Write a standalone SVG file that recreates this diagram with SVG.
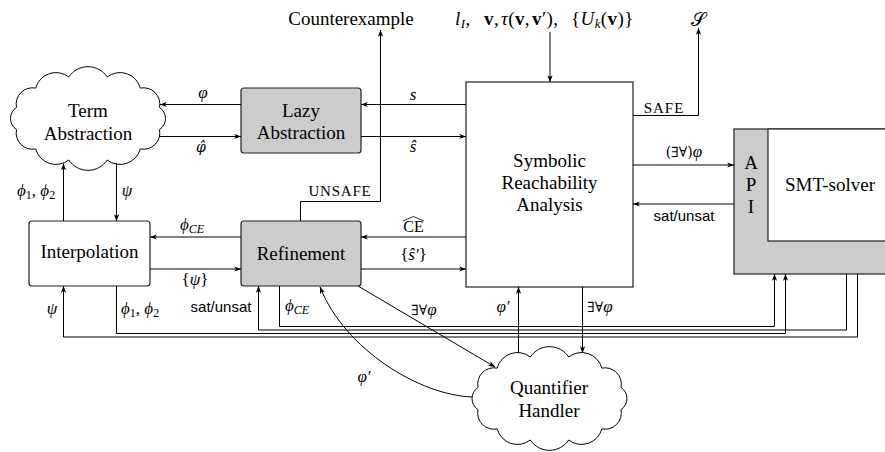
<svg xmlns="http://www.w3.org/2000/svg" width="885" height="452" viewBox="0 0 885 452" font-family="Liberation Serif, serif">
<style>
.nt{fill:#000;text-anchor:middle}
.m{font-style:italic;fill:#000}
.u{fill:#000}
.mid{text-anchor:middle}
.box{stroke:#222;stroke-width:1.2}
.w{fill:#fff}
.g{fill:#ccc}
.c{fill:none;stroke:#000;stroke-width:1}
.ar{marker-end:url(#ah)}
</style>
<defs>
<marker id="ah" viewBox="0 0 7 6" refX="6.8" refY="3" markerWidth="7" markerHeight="6" markerUnits="userSpaceOnUse" orient="auto">
<path d="M0,0.4 L7,3 L0,5.6 L1.8,3 Z" fill="#000"/>
</marker>
<path id="cloud" d="M71.5,11.1 A16.3,16.3 0 0 1 52.3,30.4 A20.9,20.9 0 0 1 19.2,41.5 A23,23 0 0 1 -19.2,41.5 A20.9,20.9 0 0 1 -52.3,30.4 A16.3,16.3 0 0 1 -71.5,11.1 A13.3,13.3 0 0 1 -71.5,-11.1 A16.3,16.3 0 0 1 -52.3,-30.4 A20.9,20.9 0 0 1 -19.2,-41.5 A23,23 0 0 1 19.2,-41.5 A20.9,20.9 0 0 1 52.3,-30.4 A16.3,16.3 0 0 1 71.5,-11.1 A13.3,13.3 0 0 1 71.5,11.1 Z"/>
</defs>
<rect width="885" height="452" fill="#fff"/>

<g id="term-abstraction">
<use href="#cloud" transform="translate(88,118.5)" fill="#fff" stroke="#000" stroke-width="1"/>
<text class="nt" x="88" y="117" font-family="Liberation Serif" font-size="19">Term</text>
<text class="nt" x="88" y="139.5" font-family="Liberation Serif" font-size="19">Abstraction</text>
</g>

<g id="lazy-abstraction">
<rect class="box g" x="241" y="88" width="120" height="65" rx="3"/>
<text class="nt" x="301" y="116.5" font-family="Liberation Serif" font-size="19">Lazy</text>
<text class="nt" x="301" y="139" font-family="Liberation Serif" font-size="19">Abstraction</text>
</g>

<g id="interpolation">
<rect class="box w" x="29" y="221" width="121" height="65" rx="3"/>
<text class="nt" x="89.5" y="257.5" font-family="Liberation Serif" font-size="19">Interpolation</text>
</g>

<g id="refinement">
<rect class="box g" x="241" y="221" width="120" height="65" rx="3"/>
<text class="nt" x="301" y="260" font-family="Liberation Serif" font-size="19">Refinement</text>
</g>

<g id="symbolic-reachability">
<rect class="box w" x="466" y="82" width="167" height="205"/>
<text class="nt" x="549.5" y="166.5" font-family="Liberation Serif" font-size="19">Symbolic</text>
<text class="nt" x="549.5" y="189" font-family="Liberation Serif" font-size="19">Reachability</text>
<text class="nt" x="549.5" y="211" font-family="Liberation Serif" font-size="19">Analysis</text>
</g>

<g id="smt-solver">
<rect class="box g" x="734" y="129" width="160" height="145"/>
<rect class="box w" x="768" y="129" width="130" height="112" stroke-width="1.6"/>
<text class="nt" x="751" y="168.5" font-family="Liberation Serif" font-size="19">A</text>
<text class="nt" x="751" y="190.5" font-family="Liberation Serif" font-size="19">P</text>
<text class="nt" x="751" y="212.5" font-family="Liberation Serif" font-size="19">I</text>
<text class="nt" x="830" y="191" font-family="Liberation Serif" font-size="19">SMT-solver</text>
</g>

<g id="quantifier-handler">
<use href="#cloud" transform="translate(549.5,398.5)" fill="#fff" stroke="#000" stroke-width="1"/>
<text class="nt" x="549" y="394" font-family="Liberation Serif" font-size="19">Quantifier</text>
<text class="nt" x="549" y="416.5" font-family="Liberation Serif" font-size="19">Handler</text>
</g>

<g id="connectors">
<path class="c ar" d="M466,104.5 H361"/>
<path class="c ar" d="M361,136.5 H466"/>
<path class="c ar" d="M241,104.5 H160"/>
<path class="c ar" d="M159,136.5 H241"/>
<path class="c ar" d="M63.5,221 V163.5"/>
<path class="c ar" d="M116.5,163 V221"/>
<path class="c ar" d="M241,237 H150"/>
<path class="c ar" d="M150,269 H241"/>
<path class="c ar" d="M466,237 H361"/>
<path class="c ar" d="M361,269 H466"/>
<path class="c ar" d="M300.5,221 V201.5 H380.5 V30"/>
<path class="c ar" d="M550,32 V82"/>
<path class="c ar" d="M633,115.5 H698.5 V28"/>
<path class="c ar" d="M633,165 H734"/>
<path class="c ar" d="M734,204 H633"/>
<path class="c ar" d="M279.5,286 V326.5 H774.5 V274"/>
<path class="c ar" d="M846.5,274 V330 H258.5 V286"/>
<path class="c ar" d="M116.5,286 V333.5 H785.5 V274"/>
<path class="c ar" d="M857.5,274 V337 H63.5 V286"/>
<path class="c ar" d="M518.5,353 V287"/>
<path class="c ar" d="M582.5,287 V353"/>
<path class="c ar" d="M358,286 L495,367"/>
<path class="c ar" d="M472,397 C420,395 345,350 320,287"/>
</g>

<g id="labels">
<text class="nt" x="351" y="25" font-family="Liberation Serif" font-size="19">Counterexample</text>
<text class="u" x="455" y="24.5" font-family="Liberation Serif" font-size="19" letter-spacing="0.4"><tspan font-style="italic">l</tspan><tspan font-style="italic" font-size="13" dy="3">I</tspan><tspan dy="-3">,</tspan><tspan x="484" font-weight="bold">v</tspan><tspan>,</tspan><tspan x="501" font-style="italic">τ</tspan><tspan>(</tspan><tspan font-weight="bold">v</tspan><tspan>,</tspan><tspan dx="2" font-weight="bold">v</tspan><tspan>′),</tspan><tspan x="571">{</tspan><tspan font-style="italic">U</tspan><tspan font-style="italic" font-size="13" dy="3">k</tspan><tspan dy="-3">(</tspan><tspan font-weight="bold">v</tspan><tspan>)}</tspan></text>
<text class="mid" x="698" y="26" font-family="Liberation Serif, DejaVu Serif, serif" font-size="19">𝒮</text>
<text class="m mid" x="203" y="98" font-family="Liberation Serif" font-size="17">φ</text>
<text class="m mid" x="201" y="152" font-family="DejaVu Serif" font-size="14">φ̂</text>
<text class="m mid" x="413" y="100" font-family="Liberation Serif" font-size="17">s</text>
<text class="m mid" x="413" y="152" font-family="Liberation Serif" font-size="17">ŝ</text>
<text class="m" x="17" y="196" font-family="Liberation Serif" font-size="17">ϕ<tspan font-size="12" font-style="normal" dy="3">1</tspan><tspan dy="-3" font-style="normal">, </tspan>ϕ<tspan font-size="12" font-style="normal" dy="3">2</tspan></text>
<text class="m mid" x="127" y="196" font-family="Liberation Serif" font-size="17">ψ</text>
<text class="m" x="180" y="230" font-family="Liberation Serif" font-size="17">ϕ<tspan font-size="12" dy="3">CE</tspan></text>
<text class="m mid" x="195" y="285" font-family="Liberation Serif" font-size="17"><tspan font-style="normal">{</tspan>ψ<tspan font-style="normal">}</tspan></text>
<text class="u mid" x="413.5" y="232" font-family="Liberation Serif" font-size="16">CE</text>
<path d="M403,221 L413.5,216.5 L424,221" fill="none" stroke="#000" stroke-width="0.8"/>
<text class="m mid" x="413.5" y="260" font-family="Liberation Serif" font-size="17"><tspan font-style="normal">{</tspan>ŝ′<tspan font-style="normal">}</tspan></text>
<text class="u mid" x="340" y="196" font-family="Liberation Serif" font-size="15" letter-spacing="0.8">UNSAFE</text>
<text class="u mid" x="664" y="113" font-family="Liberation Serif" font-size="15" letter-spacing="1">SAFE</text>
<text class="u mid" x="684" y="157" font-family="DejaVu Serif" font-size="14">(∃∀)<tspan font-family="Liberation Serif" font-style="italic" font-size="17">φ</tspan></text>
<text class="u mid" x="684" y="221" font-family="Liberation Sans, sans-serif" font-size="15">sat/unsat</text>
<text class="u mid" x="221" y="312" font-family="Liberation Sans, sans-serif" font-size="15">sat/unsat</text>
<text class="m" x="285" y="311" font-family="Liberation Serif" font-size="17">ϕ<tspan font-size="12" dy="3">CE</tspan></text>
<text class="u mid" x="424" y="315" font-family="DejaVu Serif" font-size="14">∃∀<tspan font-family="Liberation Serif" font-style="italic" font-size="17">φ</tspan></text>
<text class="m mid" x="52" y="314" font-family="Liberation Serif" font-size="17">ψ</text>
<text class="m" x="121" y="314" font-family="Liberation Serif" font-size="17">ϕ<tspan font-size="12" font-style="normal" dy="3">1</tspan><tspan dy="-3" font-style="normal">, </tspan>ϕ<tspan font-size="12" font-style="normal" dy="3">2</tspan></text>
<text class="m mid" x="364" y="382" font-family="Liberation Serif" font-size="17">φ′</text>
<text class="m mid" x="503" y="312" font-family="Liberation Serif" font-size="17">φ′</text>
<text class="u mid" x="600" y="312" font-family="DejaVu Serif" font-size="14">∃∀<tspan font-family="Liberation Serif" font-style="italic" font-size="17">φ</tspan></text>
</g>
</svg>
